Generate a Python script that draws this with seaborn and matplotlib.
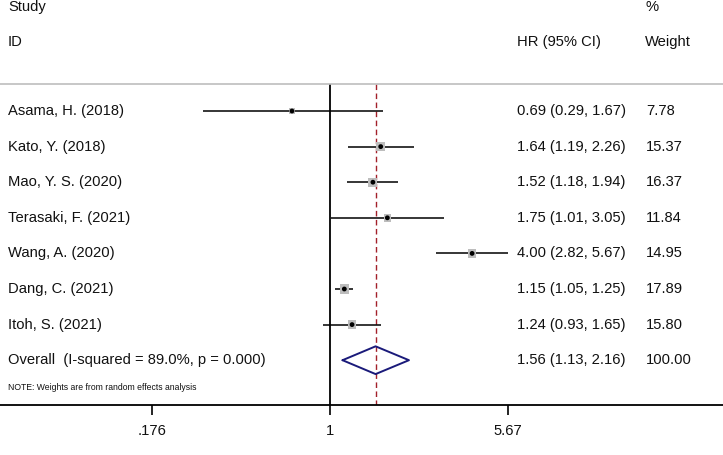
import numpy as np
import pandas as pd
import matplotlib
matplotlib.use("Agg")
import matplotlib.pyplot as plt
import seaborn as sns

studies = ["Asama, H. (2018)", "Kato, Y. (2018)", "Mao, Y. S. (2020)", "Terasaki, F. (2021)",
           "Wang, A. (2020)", "Dang, C. (2021)", "Itoh, S. (2021)"]
hr = [0.69, 1.64, 1.52, 1.75, 4.00, 1.15, 1.24]
lower = [0.29, 1.19, 1.18, 1.01, 2.82, 1.05, 0.93]
upper = [1.67, 2.26, 1.94, 3.05, 5.67, 1.25, 1.65]
weights = [7.78, 15.37, 16.37, 11.84, 14.95, 17.89, 15.80]
overall_label = "Overall  (I-squared = 89.0%, p = 0.000)"
overall_hr, overall_lo, overall_hi, overall_w = 1.56, 1.13, 2.16, 100.00
xticks = [0.176, 1, 5.67]
xticklabels = [".176", "1", "5.67"]
note = "NOTE: Weights are from random effects analysis"

sns.set_style("white")
plt.rcParams['font.family'] = ['Liberation Sans', 'DejaVu Sans']

W, H = 723, 455
fig = plt.figure(figsize=(W / 100, H / 100), dpi=100)
axis_y = 405
ax = fig.add_axes([0, (H - axis_y) / H, 1, axis_y / H])

# x scale: log, center at pixel 330, 102.5 px per ln unit
c, k = 330, 102.5
ax.set_xscale("log")
ax.set_xlim(np.exp(-c / k), np.exp((W - c) / k))
row0, dy = 111, 35.6
ax.set_ylim((axis_y - row0) / dy, -row0 / dy)

df = pd.DataFrame({"study": studies, "hr": hr, "lo": lower, "hi": upper, "w": weights,
                   "row": np.arange(len(studies))})

top_line = (84 - row0) / dy
# reference lines
ax.vlines(1, top_line, (axis_y - row0) / dy, color="black", lw=1.3, zorder=1)
ax.vlines(overall_hr, top_line, (axis_y - row0) / dy, color="#a3202a", lw=1.0,
          linestyles=(0, (4, 2.5)), zorder=1)
ax.axhline(top_line, color="#bdbdbd", lw=1.2)

# CI lines
ax.hlines(df["row"], df["lo"], df["hi"], color="black", lw=1.1, zorder=2)
# weight squares
sides = 6.8 * np.sqrt(np.array(weights) / max(weights))
ax.scatter(df["hr"], df["row"], s=sides ** 2, marker="s", color="#bdbdbd",
           edgecolor="none", zorder=3)
sns.scatterplot(data=df, x="hr", y="row", ax=ax, color="black", s=12, marker="o",
                edgecolor="none", zorder=4, legend=False)

# overall diamond
orow = len(studies)
hh = 0.39
ax.plot([overall_lo, overall_hr, overall_hi, overall_hr, overall_lo],
        [orow, orow - hh, orow, orow + hh, orow], color="#1a1a7a", lw=1.4, zorder=3)

# texts
tr = ax.get_yaxis_transform()
fs = 10.6
tc = "#111111"
x_lab, x_ci, x_w = 8 / W, 517 / W, 646 / W
for i, s in enumerate(studies):
    ax.text(x_lab, i, s, transform=tr, fontsize=fs, va="center", ha="left", color=tc)
    ax.text(x_ci, i, f"{hr[i]:.2f} ({lower[i]:.2f}, {upper[i]:.2f})", transform=tr,
            fontsize=fs, va="center", ha="left", color=tc)
    ax.text(x_w, i, f"{weights[i]:.2f}", transform=tr, fontsize=fs, va="center", ha="left",
            color=tc)
ax.text(x_lab, orow, overall_label, transform=tr, fontsize=fs, va="center", ha="left", color=tc)
ax.text(x_ci, orow, f"{overall_hr:.2f} ({overall_lo:.2f}, {overall_hi:.2f})", transform=tr,
        fontsize=fs, va="center", ha="left", color=tc)
ax.text(x_w, orow, f"{overall_w:.2f}", transform=tr, fontsize=fs, va="center", ha="left", color=tc)

yh1, yh2 = (7 - row0) / dy, (42 - row0) / dy
ax.text(x_lab, yh1, "Study", transform=tr, fontsize=fs, va="center", ha="left", color=tc)
ax.text(x_lab, yh2, "ID", transform=tr, fontsize=fs, va="center", ha="left", color=tc)
ax.text(x_w - 1 / W, yh1, "%", transform=tr, fontsize=fs, va="center", ha="left", color=tc)
ax.text(x_ci, yh2, "HR (95% CI)", transform=tr, fontsize=fs, va="center", ha="left", color=tc)
ax.text(x_w - 1 / W, yh2, "Weight", transform=tr, fontsize=fs, va="center", ha="left", color=tc)
ax.text(x_lab, (387 - row0) / dy, note, transform=tr, fontsize=6.2, va="center", ha="left",
        color=tc)

# axes styling
for side in ["top", "right", "left"]:
    ax.spines[side].set_visible(False)
ax.spines["bottom"].set_color("black")
ax.spines["bottom"].set_linewidth(1.3)
ax.set_xticks(xticks)
ax.set_xticklabels(xticklabels, fontsize=fs, color=tc)
ax.xaxis.set_minor_locator(matplotlib.ticker.NullLocator())
ax.tick_params(axis="x", direction="out", length=7, width=1.2, color="black", pad=7, bottom=True)
ax.set_yticks([])
ax.set_xlabel("")
ax.set_ylabel("")

fig.savefig("out.png", dpi=100)
